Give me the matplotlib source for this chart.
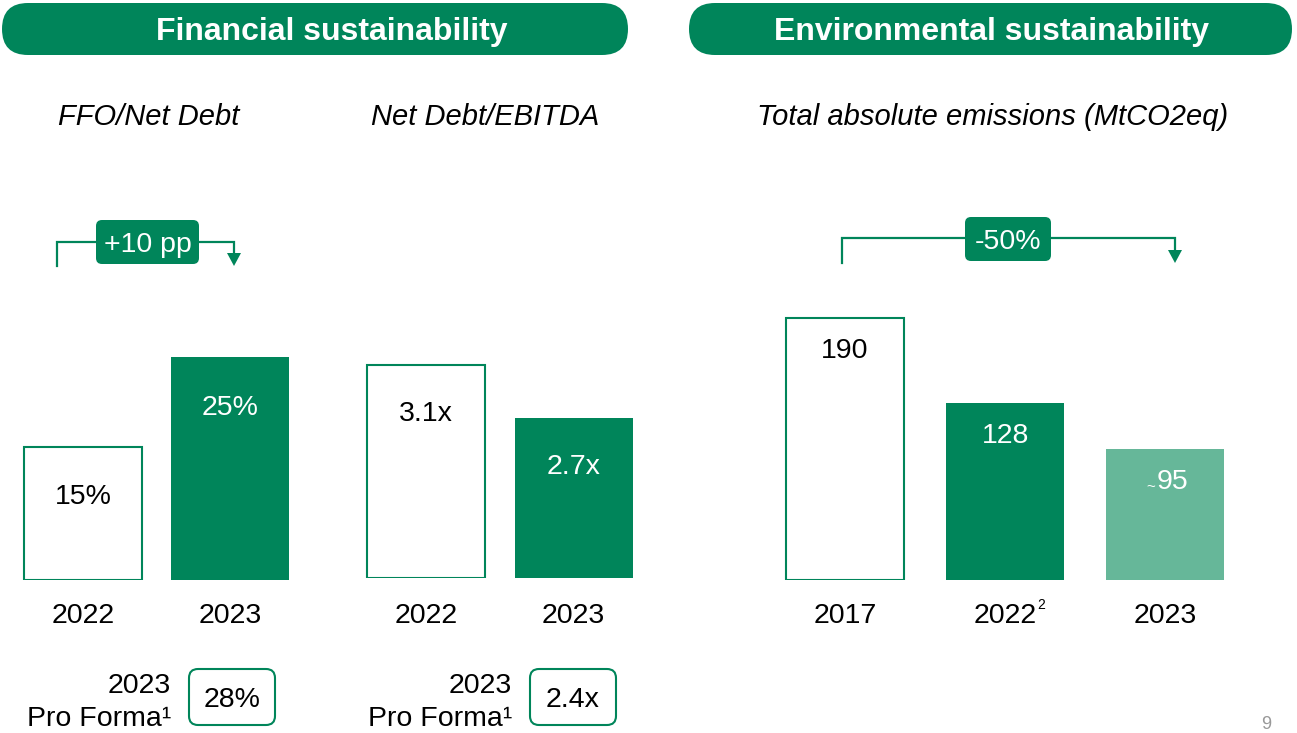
import numpy as np
import matplotlib
matplotlib.use("Agg")
import matplotlib.pyplot as plt
from matplotlib.patches import FancyBboxPatch, Polygon

plt.rcParams['font.family'] = ['Liberation Sans', 'DejaVu Sans']

GREEN = '#00855a'
LIGHT = '#66b799'

# data
ffo_years = ['2022', '2023']
ffo_vals = [15, 25]
ffo_labels = ['15%', '25%']

nd_years = ['2022', '2023']
nd_vals = [3.1, 2.7]
nd_labels = ['3.1x', '2.7x']

em_years = ['2017', '2022', '2023']
em_vals = [190, 128, 95]
em_labels = ['190', '128', '95']

proforma_vals = ['28%', '2.4x']

W, H = 1297, 733
fig = plt.figure(figsize=(W / 100, H / 100), dpi=100)


def add_ax(x0, x1, ybase, ytop):
    return fig.add_axes([x0 / W, (H - ybase) / H, (x1 - x0) / W, (ybase - ytop) / H])


def px2pt(p):
    return p * 72 / 100


def draw_bars(ax, vals, labels, years, styles, base, lab_off, yr_off, width, xshift=None):
    if xshift is None:
        xshift = [0] * len(vals)
    for i, (v, lab, yr, st) in enumerate(zip(vals, labels, years, styles)):
        if st == 'outline':
            ax.bar(i, v - base, bottom=base, width=width, color='white',
                   edgecolor=GREEN, linewidth=1.5)
            tc = 'black'
        else:
            ax.bar(i, v - base, bottom=base, width=width,
                   color=GREEN if st == 'dark' else LIGHT, linewidth=0)
            tc = 'white'
        ax.annotate(lab, (i, v), xytext=(px2pt(xshift[i]), -px2pt(lab_off)),
                    textcoords='offset points',
                    ha='center', va='center', fontsize=20.5, color=tc)
        ax.annotate(yr, (i, base), xytext=(0, -px2pt(yr_off)), textcoords='offset points',
                    ha='center', va='center', fontsize=20.5, color='black',
                    annotation_clip=False)
    ax.set_xlim(-0.5, len(vals) - 0.5)
    ax.axis('off')


# FFO / Net debt
ax1 = add_ax(9.5, 303.5, 580, 313)
ax1.set_ylim(0, 30)
draw_bars(ax1, ffo_vals, ffo_labels, ffo_years, ['outline', 'dark'], 0, 51, 36, 0.803)

# Net debt / EBITDA
ax2 = add_ax(352.25, 647.25, 578, 312)
ax2.set_ylim(1.5, 3.5)
draw_bars(ax2, nd_vals, nd_labels, nd_years, ['outline', 'dark'], 1.5, 49, 38, 0.8)

# emissions
ax3 = add_ax(765, 1245.5, 580, 276.4)
ax3.set_ylim(0, 220)
draw_bars(ax3, em_vals, em_labels, em_years, ['outline', 'dark', 'light'], 0, 33, 36,
          0.737, xshift=[0, 0, 7])

# overlay in pixel coords
ov = fig.add_axes([0, 0, 1, 1])
ov.set_xlim(0, W)
ov.set_ylim(H, 0)
ov.axis('off')

# header banners
for x0, x1, tx, txt in [(2, 628, 332, 'Financial sustainability'),
                        (689, 1292, 992, 'Environmental sustainability')]:
    ov.add_patch(FancyBboxPatch((x0, 3), x1 - x0, 52,
                                boxstyle='round,pad=0,rounding_size=26',
                                fc=GREEN, ec='none'))
    ov.text(tx, 32, txt, ha='center', va='center', color='white',
            fontsize=23, fontweight='bold')

# subtitles
ov.text(149, 117, 'FFO/Net Debt', ha='center', va='center', fontsize=21, style='italic')
ov.text(485, 117, 'Net Debt/EBITDA', ha='center', va='center', fontsize=21, style='italic')
ov.text(993, 117, 'Total absolute emissions (MtCO2eq)', ha='center', va='center',
        fontsize=21, style='italic')


# change brackets
def bracket(xl, xr, ytop, ylow, bx0, bx1, by0, by1, txt):
    ov.plot([xl, xl, xr, xr], [ylow, ytop, ytop, ylow - 12], color=GREEN, lw=1.6,
            solid_joinstyle='miter')
    ov.add_patch(Polygon([[xr - 7, ylow - 13], [xr + 7, ylow - 13], [xr, ylow]],
                         closed=True, fc=GREEN, ec='none'))
    ov.add_patch(FancyBboxPatch((bx0, by0), bx1 - bx0, by1 - by0,
                                boxstyle='round,pad=0,rounding_size=6',
                                fc=GREEN, ec='none', zorder=3))
    ov.text((bx0 + bx1) / 2, (by0 + by1) / 2 + 3, txt, ha='center', va='center',
            color='white', fontsize=20.5, zorder=4)


bracket(57, 234, 242, 266, 96, 199, 220, 264, '+10 pp')
bracket(842, 1175, 238, 263, 965, 1051, 217, 261, '-50%')

# superscript on 2022 and tilde on 95
ov.text(1037, 605, '2', ha='left', va='center', fontsize=10)
ov.text(1155, 487, '~', ha='right', va='center', fontsize=11, color='white', zorder=5)

# pro forma boxes
for xr, bx0, val in [(171, 189, proforma_vals[0]), (512, 530, proforma_vals[1])]:
    ov.text(xr, 686, '2023', ha='right', va='center', fontsize=20.5)
    ov.text(xr, 719, 'Pro Forma¹', ha='right', va='center', fontsize=20.5)
    ov.add_patch(FancyBboxPatch((bx0, 669), 86, 56,
                                boxstyle='round,pad=0,rounding_size=9',
                                fc='white', ec=GREEN, lw=1.5))
    ov.text(bx0 + 43, 700, val, ha='center', va='center', fontsize=20.5)

# page number
ov.text(1266, 716, '9', ha='center', va='top', fontsize=13, color='#999999')

fig.savefig('out.png', dpi=100)
